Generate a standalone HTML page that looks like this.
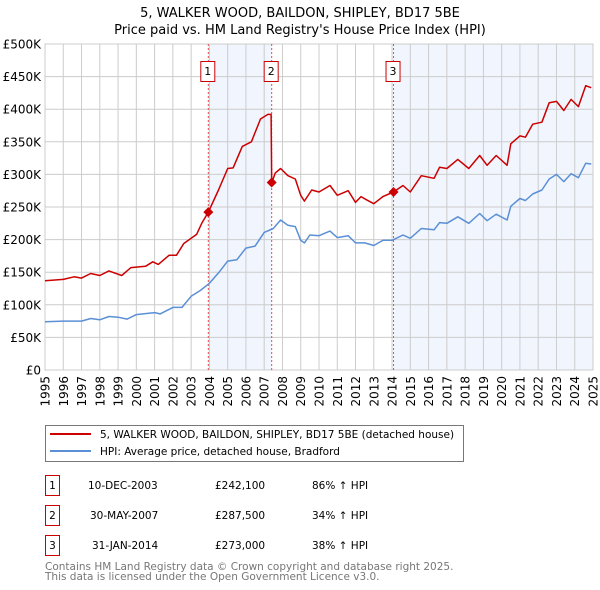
<!DOCTYPE html>
<html><head><meta charset="utf-8"><style>
body{margin:0;background:#fff;font-family:"Liberation Sans","DejaVu Sans",sans-serif;}
svg{display:block}
</style></head><body>
<svg id="c" width="600" height="590" xmlns="http://www.w3.org/2000/svg" font-family="DejaVu Sans, Liberation Sans, sans-serif">
<text x="300" y="17" text-anchor="middle" font-size="13">5, WALKER WOOD, BAILDON, SHIPLEY, BD17 5BE</text>
<text x="300" y="34" text-anchor="middle" font-size="13">Price paid vs. HM Land Registry's House Price Index (HPI)</text>
<g id="plot"></g>
<g>
<rect x="45.5" y="425.5" width="418" height="36" fill="#fff" stroke="#777"/>
<line x1="50" y1="434" x2="91" y2="434" stroke="#cc0000" stroke-width="2"/>
<text x="100" y="438" font-size="10.5">5, WALKER WOOD, BAILDON, SHIPLEY, BD17 5BE (detached house)</text>
<line x1="50" y1="451" x2="91" y2="451" stroke="#5b8fd6" stroke-width="2"/>
<text x="100" y="455" font-size="10.5">HPI: Average price, detached house, Bradford</text>
</g>
<g font-size="10.5">
<rect x="45.5" y="475.5" width="14" height="20" fill="#fff" stroke="#cc0000"/><text x="52.5" y="489" text-anchor="middle">1</text>
<text x="88" y="489">10-DEC-2003</text><text x="215" y="489">£242,100</text><text x="312" y="489">86% ↑ HPI</text>
<rect x="45.5" y="505.5" width="14" height="20" fill="#fff" stroke="#cc0000"/><text x="52.5" y="519" text-anchor="middle">2</text>
<text x="90" y="519">30-MAY-2007</text><text x="215" y="519">£287,500</text><text x="312" y="519">34% ↑ HPI</text>
<rect x="45.5" y="535.5" width="14" height="20" fill="#fff" stroke="#cc0000"/><text x="52.5" y="549" text-anchor="middle">3</text>
<text x="92" y="549">31-JAN-2014</text><text x="215" y="549">£273,000</text><text x="312" y="549">38% ↑ HPI</text>
</g>
<text x="45" y="570" font-size="10.5" fill="#777">Contains HM Land Registry data © Crown copyright and database right 2025.</text>
<text x="45" y="580" font-size="10.5" fill="#777">This data is licensed under the Open Government Licence v3.0.</text>
</svg>
<script>
const yearTicks=[1995,1996,1997,1998,1999,2000,2001,2002,2003,2004,2005,2006,2007,2008,2009,2010,2011,2012,2013,2014,2015,2016,2017,2018,2019,2020,2021,2022,2023,2024,2025];
const valueTicks=[0,50000,100000,150000,200000,250000,300000,350000,400000,450000,500000];
const valueTickLabels=["£0","£50K","£100K","£150K","£200K","£250K","£300K","£350K","£400K","£450K","£500K"];
const hpiT=[1995,1996,1997,1997.5,1998,1998.5,1999,1999.5,2000,2001,2001.3,2002,2002.5,2003,2003.5,2004,2004.5,2005,2005.5,2006,2006.5,2007,2007.5,2007.9,2008.3,2008.7,2009,2009.2,2009.5,2010,2010.6,2011,2011.6,2012,2012.5,2013,2013.5,2014,2014.6,2015,2015.6,2016.3,2016.6,2017,2017.6,2018.2,2018.8,2019.2,2019.7,2020.3,2020.5,2021,2021.3,2021.7,2022.2,2022.6,2023,2023.4,2023.8,2024.2,2024.6,2024.9];
const hpiV=[74,75,75,79,77,82,81,78,85,88,86,96,96,113,122,133,149,167,169,187,190,211,217,230,222,220,199,195,207,206,213,203,206,195,195,191,199,199,207,202,217,215,226,225,235,225,240,229,239,230,251,263,260,270,276,293,300,289,301,295,317,316];
const propT=[1995,1996,1996.6,1997,1997.5,1998,1998.5,1999.2,1999.7,2000.5,2000.9,2001.2,2001.8,2002.2,2002.6,2003.3,2003.6,2003.94,2004.5,2005,2005.3,2005.8,2006.3,2006.8,2007.2,2007.38,2007.41,2007.6,2007.9,2008.3,2008.7,2009,2009.2,2009.6,2010,2010.6,2011,2011.6,2012,2012.3,2012.6,2013,2013.5,2014.08,2014.6,2015,2015.6,2016.3,2016.6,2017,2017.6,2018.2,2018.8,2019.2,2019.7,2020.3,2020.5,2021,2021.3,2021.7,2022.2,2022.6,2023,2023.4,2023.8,2024.2,2024.6,2024.9];
const propV=[137,139,143,141,148,145,152,145,157,159,166,162,176,176,194,208,226,242,276,309,310,343,350,385,392,392,287,302,309,298,293,268,259,276,273,283,268,275,257,266,261,255,266,273,283,273,298,294,311,309,323,309,329,314,329,314,347,359,357,377,380,410,412,398,415,404,436,433];
const saleT=[2003.94,2007.41,2014.08];
const saleV=[242100,287500,273000];
const saleLabels=["1","2","3"];

const NS="http://www.w3.org/2000/svg";
const L=45,R=593,T=44,B=370;
const xs=t=>L+(t-1995)/30*(R-L);
const ys=v=>B-v/500000*(B-T);
const g=document.getElementById('plot');
function mk(tag,attrs,parent){const e=document.createElementNS(NS,tag);for(const k in attrs)e.setAttribute(k,attrs[k]);(parent||g).appendChild(e);return e;}
let s1=mk('rect',{x:xs(saleT[0]),y:T,width:xs(saleT[1])-xs(saleT[0]),height:B-T,fill:'#eef3fd',opacity:0.8});


let s2=mk('rect',{x:xs(saleT[2]),y:T,width:R-xs(saleT[2]),height:B-T,fill:'#eef3fd',opacity:0.8});


yearTicks.forEach(y=>{const l=mk('line',{x1:xs(y),x2:xs(y),y1:T,y2:B,stroke:'#cccccc','stroke-width':1});


const tx=mk('text',{transform:`translate(${xs(y)+4.5},${B+6}) rotate(-90)`,'text-anchor':'end','font-size':12});tx.textContent=y;

});
valueTicks.forEach((v,i)=>{const l=mk('line',{x1:L,x2:R,y1:ys(v),y2:ys(v),stroke:'#cccccc','stroke-width':1});


const tx=mk('text',{x:L-4,y:ys(v)+4.5,'text-anchor':'end','font-size':12});tx.textContent=valueTickLabels[i];

});
const ax=mk('rect',{x:L,y:T,width:R-L,height:B-T,fill:'none',stroke:'#cccccc'});


saleT.forEach((t,i)=>{const l=mk('line',{x1:xs(t),x2:xs(t),y1:T,y2:B,stroke:'#e05050','stroke-dasharray':'2,2','stroke-width':1});


const r=mk('rect',{x:xs(t)-7.5,y:61.5,width:14,height:20,fill:'#fff',stroke:'#cc0000'});


const tx=mk('text',{x:xs(t)-0.5,y:75,'text-anchor':'middle','font-size':11});tx.textContent=saleLabels[i];

});
function line(T_,V,color,name){const p=mk('path',{d:T_.map((t,i)=>(i?'L':'M')+xs(t).toFixed(1)+','+ys(V[i]*1000).toFixed(1)).join(''),fill:'none',stroke:color,'stroke-width':1.5,'stroke-linejoin':'round'});

}
line(hpiT,hpiV,'#5b8fd6','hpi-line');
line(propT,propV,'#cc0000','property-line');
saleT.forEach((t,i)=>{const c=mk('path',{d:`M${xs(t)},${ys(saleV[i])-5}l5,5l-5,5l-5,-5z`,fill:'#cc0000'});

});
</script>
</body></html>
